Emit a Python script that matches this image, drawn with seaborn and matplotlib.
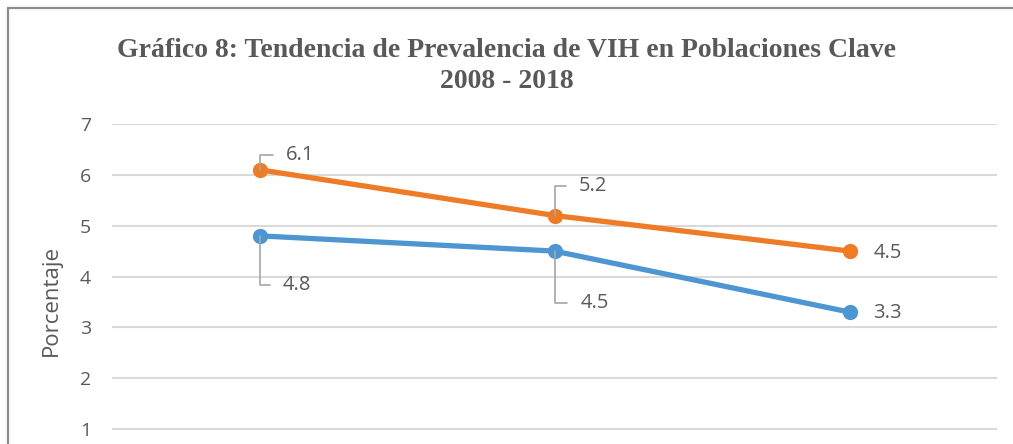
import pandas as pd
import matplotlib.pyplot as plt
import seaborn as sns
from matplotlib.patches import Rectangle

years = ['2008', '2012', '2018']
serie_azul = [4.8, 4.5, 3.3]
serie_naranja = [6.1, 5.2, 4.5]
series = ['HSH', 'MTS']

df = pd.DataFrame({
    'Año': years * 2,
    'Serie': [series[0]] * 3 + [series[1]] * 3,
    'Porcentaje': serie_azul + serie_naranja,
})

sns.set_theme(style='white')
plt.rcParams['font.family'] = ['Open Sans', 'DejaVu Sans']

fig = plt.figure(figsize=(10.13, 4.44), dpi=100)
ax = fig.add_axes([112 / 1013, 0, 885 / 1013, 320 / 444])

colores = {series[0]: '#4E96D1', series[1]: '#EE7B26'}
sns.lineplot(data=df, x='Año', y='Porcentaje', hue='Serie', palette=colores,
             marker='o', markersize=11, markeredgewidth=0, linewidth=3.8,
             legend=False, ax=ax, sort=False)

ax.set_xlim(-0.5, 2.5)
ax.set_ylim(0.705, 7)
ax.set_yticks(range(1, 8))
ax.yaxis.grid(True, color='#D9D9D9', linewidth=1.5)
ax.set_axisbelow(True)
for s in ax.spines.values():
    s.set_visible(False)
ax.tick_params(axis='y', labelsize=14, labelcolor='#595959', length=0, pad=15)
ax.set_xticks([])
ax.set_xlabel('')
ax.set_ylabel('Porcentaje', fontsize=16, color='#595959')
ax.yaxis.set_label_coords(-0.057, 0.45)

# etiquetas de datos (desplazamientos en píxeles)
offsets_azul = [(23, -49), (26, -52), (24, -1)]
offsets_naranja = [(26, 15), (24, 30), (24, -2)]
lider = dict(arrowstyle='-', color='#A6A6A6', lw=1.2,
             connectionstyle='angle,angleA=0,angleB=90,rad=0',
             shrinkA=7, shrinkB=0)
for vals, offs in [(serie_azul, offsets_azul), (serie_naranja, offsets_naranja)]:
    for i, (v, off) in enumerate(zip(vals, offs)):
        ax.annotate(f'{v}', xy=(i, v), xytext=off, textcoords='offset pixels',
                    ha='left', va='center', fontsize=14.5, color='#595959',
                    arrowprops=lider if i < 2 else None)

fig.text(0.5, 0.852, 'Gráfico 8: Tendencia de Prevalencia de VIH en Poblaciones Clave\n2008 - 2018',
         ha='center', va='center', fontsize=20, fontweight='bold', color='#595959',
         family=['Liberation Serif', 'DejaVu Serif'], linespacing=1.3)

fig.patches.append(Rectangle((8 / 1013, -0.1), 1.2, (444 - 8) / 444 + 0.1,
                             transform=fig.transFigure, fill=False,
                             edgecolor='#8C8C8C', linewidth=1.6))

fig.savefig('out.png', dpi=100)
plt.close()
